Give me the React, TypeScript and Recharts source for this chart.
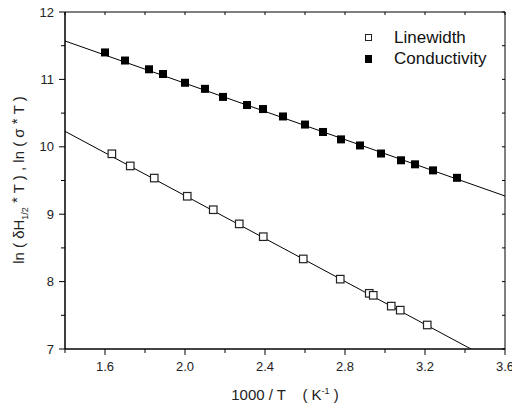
import React from 'react'
import { ComposedChart, Scatter, XAxis, YAxis } from 'recharts'

// measured points, 1000/T vs ln(...)
const linewidthX = [1.633, 1.725, 1.845, 2.01, 2.14, 2.27, 2.39, 2.59, 2.775, 2.92, 2.94, 3.03, 3.075, 3.21]
const linewidthY = [9.9, 9.72, 9.54, 9.27, 9.07, 8.86, 8.67, 8.34, 8.04, 7.83, 7.8, 7.64, 7.58, 7.36]

const conductivityX = [1.6, 1.7, 1.82, 1.89, 2.0, 2.1, 2.19, 2.31, 2.39, 2.49, 2.6, 2.69, 2.78, 2.875, 2.98, 3.08, 3.15, 3.24, 3.36]
const conductivityY = [11.4, 11.28, 11.15, 11.08, 10.95, 10.86, 10.74, 10.62, 10.56, 10.45, 10.33, 10.22, 10.11, 10.02, 9.9, 9.8, 9.74, 9.65, 9.54]

// linear fits (end points)
const linewidthFitX = [1.4, 3.43]
const linewidthFitY = [10.23, 7.0]
const conductivityFitX = [1.4, 3.6]
const conductivityFitY = [11.57, 9.27]

const xTicks = [1.4, 1.6, 1.8, 2.0, 2.2, 2.4, 2.6, 2.8, 3.0, 3.2, 3.4, 3.6]
const xLabels = ['1.6', '2.0', '2.4', '2.8', '3.2', '3.6']
const yTicks = [7, 7.5, 8, 8.5, 9, 9.5, 10, 10.5, 11, 11.5, 12]
const yLabels = ['7', '8', '9', '10', '11', '12']

const toPoints = (xs: number[], ys: number[]) => xs.map((x, i) => ({ x, y: ys[i] }))

const linewidthData = toPoints(linewidthX, linewidthY)
const conductivityData = toPoints(conductivityX, conductivityY)
const linewidthFit = toPoints(linewidthFitX, linewidthFitY)
const conductivityFit = toPoints(conductivityFitX, conductivityFitY)

const FONT = '"Liberation Sans", Arial, sans-serif'

const OpenSquare = (props: any) => (
  <rect x={props.cx - 3.5} y={props.cy - 3.5} width={7.5} height={7.5} fill="#fff" stroke="#222" strokeWidth={1.2} />
)
const FilledSquare = (props: any) => (
  <rect x={props.cx - 4} y={props.cy - 4} width={8} height={8} fill="#000" />
)
const NoDot = () => <g />

const BottomTick = (props: any) => {
  const { x, y, payload } = props
  const label = xLabels.find((l) => Math.abs(parseFloat(l) - payload.value) < 1e-6)
  return (
    <g>
      <line x1={x} y1={y} x2={x} y2={y + (label ? 6 : 4)} stroke="#000" strokeWidth={1} />
      {label && (
        <text x={x} y={y + 22} textAnchor="middle" fontSize={13} fontFamily={FONT} fill="#222">
          {label}
        </text>
      )}
    </g>
  )
}

const LeftTick = (props: any) => {
  const { x, y, payload } = props
  const label = yLabels.find((l) => Math.abs(parseFloat(l) - payload.value) < 1e-6)
  return (
    <g>
      <line x1={x} y1={y} x2={x - (label ? 6 : 4)} y2={y} stroke="#000" strokeWidth={1} />
      {label && (
        <text x={x - 11} y={y + 4.5} textAnchor="end" fontSize={13} fontFamily={FONT} fill="#222">
          {label}
        </text>
      )}
    </g>
  )
}

const TopTick = (props: any) => (
  <line x1={props.x} y1={props.y} x2={props.x} y2={props.y + 3} stroke="#000" strokeWidth={1} />
)
const RightTick = (props: any) => (
  <line x1={props.x} y1={props.y} x2={props.x - 3} y2={props.y} stroke="#000" strokeWidth={1} />
)

const YTitle = () => (
  <text
    transform="translate(24, 180) rotate(-90)"
    textAnchor="middle"
    fontSize={15}
    fontFamily={FONT}
    fill="#222"
    style={{ whiteSpace: 'pre' }}
  >
    ln ( δH
    <tspan fontSize={9} dy={4}>1/2</tspan>
    <tspan dy={-4}> </tspan>
    <tspan dy={-2}>*</tspan>
    <tspan dy={2}> T ) , ln ( σ </tspan>
    <tspan dy={-2}>*</tspan>
    <tspan dy={2}> T )</tspan>
  </text>
)

const XTitle = () => (
  <text x={285} y={400} textAnchor="middle" fontSize={15} fontFamily={FONT} fill="#222" style={{ whiteSpace: 'pre' }}>
    {'1000 / T    ( K'}
    <tspan fontSize={9} dy={-6}>-1</tspan>
    <tspan dy={6}>{' )'}</tspan>
  </text>
)

const LegendBox = () => (
  <div style={{ position: 'absolute', left: 365, top: 27, fontFamily: FONT, fontSize: 17, color: '#111', lineHeight: '21px' }}>
    <div style={{ display: 'flex', alignItems: 'center' }}>
      <span style={{ width: 7, height: 7, border: '1px solid #222', boxSizing: 'border-box', display: 'inline-block', marginRight: 22 }} />
      Linewidth
    </div>
    <div style={{ display: 'flex', alignItems: 'center' }}>
      <span style={{ width: 7, height: 8, background: '#000', display: 'inline-block', marginRight: 22 }} />
      Conductivity
    </div>
  </div>
)

export default function App() {
  return (
    <div style={{ position: 'fixed', left: 0, top: 0, width: 512, height: 409, background: '#fff' }}>
      <ComposedChart width={512} height={409} margin={{ top: 11, right: 6, left: 15, bottom: 0 }}>
        <XAxis
          dataKey="x"
          type="number"
          domain={[1.4, 3.6]}
          ticks={xTicks}
          allowDataOverflow
          height={60}
          tickSize={0}
          tickMargin={0}
          tickLine={false}
          tick={<BottomTick />}
          axisLine={{ stroke: '#444', strokeWidth: 2 }}
          interval={0}
        />
        <XAxis
          xAxisId="top"
          orientation="top"
          dataKey="x"
          type="number"
          domain={[1.4, 3.6]}
          ticks={xTicks}
          allowDataOverflow
          height={1}
          tickSize={0}
          tickMargin={0}
          tickLine={false}
          tick={<TopTick />}
          axisLine={{ stroke: '#000', strokeWidth: 1 }}
          interval={0}
        />
        <YAxis
          dataKey="y"
          type="number"
          domain={[7, 12]}
          ticks={yTicks}
          allowDataOverflow
          width={50}
          tickSize={0}
          tickMargin={0}
          tickLine={false}
          tick={<LeftTick />}
          axisLine={{ stroke: '#000', strokeWidth: 1.5 }}
          interval={0}
        />
        <YAxis
          yAxisId="right"
          orientation="right"
          dataKey="y"
          type="number"
          domain={[7, 12]}
          ticks={yTicks}
          allowDataOverflow
          width={1}
          tickSize={0}
          tickMargin={0}
          tickLine={false}
          tick={<RightTick />}
          axisLine={{ stroke: '#000', strokeWidth: 1 }}
          interval={0}
        />
        <Scatter data={linewidthFit} line={{ stroke: '#000', strokeWidth: 1 }} shape={<NoDot />} isAnimationActive={false} legendType="none" />
        <Scatter data={conductivityFit} line={{ stroke: '#000', strokeWidth: 1 }} shape={<NoDot />} isAnimationActive={false} legendType="none" />
        <Scatter data={linewidthData} shape={<OpenSquare />} isAnimationActive={false} name="Linewidth" />
        <Scatter data={conductivityData} shape={<FilledSquare />} isAnimationActive={false} name="Conductivity" />
      </ComposedChart>
      <svg width={512} height={409} style={{ position: 'absolute', left: 0, top: 0, pointerEvents: 'none' }}>
        <YTitle />
        <XTitle />
      </svg>
      <LegendBox />
    </div>
  )
}
